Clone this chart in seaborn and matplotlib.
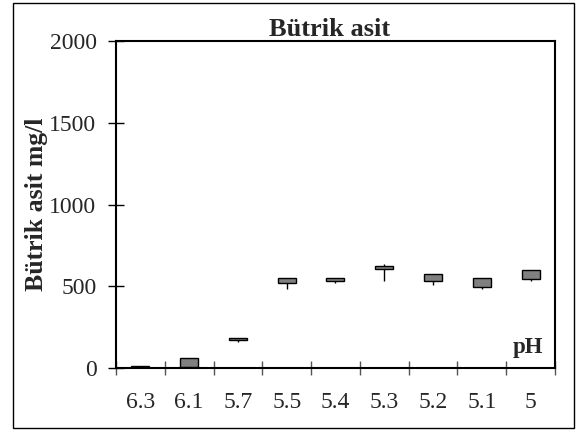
import numpy as np
import pandas as pd
import matplotlib
matplotlib.use("Agg")
import matplotlib.pyplot as plt
import seaborn as sns
from matplotlib.patches import Rectangle

# ==========================
# Data
# ==========================

ph_labels = ["6.3", "6.1", "5.7", "5.5", "5.4", "5.3", "5.2", "5.1", "5"]
low_vals = [0, 0, 158, 485, 522, 534, 510, 485, 534]
high_vals = [12, 60, 185, 550, 550, 636, 575, 550, 600]
open_vals = [3, 8, 172, 522, 534, 608, 534, 498, 546]
close_vals = [12, 60, 184, 550, 550, 624, 575, 550, 600]
y_ticks = [0, 500, 1000, 1500, 2000]

df = pd.DataFrame({
    "pH": ph_labels,
    "low": low_vals,
    "high": high_vals,
    "open": open_vals,
    "close": close_vals,
})
df["box"] = df["close"] - df["open"]

# ==========================
# Style
# ==========================

sns.set_theme(style="white")
plt.rcParams["font.family"] = ["Liberation Serif", "DejaVu Serif"]

fig = plt.figure(figsize=(5.79, 4.32), dpi=100)
ax = fig.add_axes([0.2003, 0.148, 0.7582, 0.757])

# whiskers (high-low lines) behind the boxes
ax.vlines(np.arange(len(df)), df["low"], df["high"], color="black",
          lw=1, zorder=1)

# open-close boxes
sns.barplot(
    data=df, x="pH", y="box", order=ph_labels,
    bottom=df["open"].to_numpy(),
    width=0.37, color="#808080", edgecolor="black", linewidth=1,
    errorbar=None, saturation=1, ax=ax, zorder=2
)

# ==========================
# Axes
# ==========================

ax.set_xlim(-0.5, len(df) - 0.5)
ax.set_ylim(0, 2000)
ax.set_yticks(y_ticks)
ax.set_yticklabels([str(v) for v in y_ticks])

ax.set_xticks(np.arange(-0.5, len(df), 1))
ax.set_xticklabels([])
ax.set_xticks(np.arange(len(df)), minor=True)
ax.set_xticklabels(ph_labels, minor=True)

ax.tick_params(axis="y", which="major", direction="inout", length=12,
               width=1, color="black", labelsize=17, pad=8, left=True)
ax.tick_params(axis="x", which="major", direction="inout", length=10,
               width=1, color="#555555", bottom=True)
ax.tick_params(axis="x", which="minor", length=0, labelsize=17, pad=17,
               bottom=True)

for spine in ax.spines.values():
    spine.set_visible(True)
    spine.set_color("black")
    spine.set_linewidth(1.5)

ax.set_xlabel("")
ax.set_ylabel("Bütrik asit mg/l", fontsize=18.5, fontweight="bold",
              va="center")
ax.yaxis.set_label_coords(-0.182, 0.5)
ax.set_title("Bütrik asit", fontsize=19, fontweight="bold", pad=3, x=0.486)

ax.text(0.938, 0.064, "pH", transform=ax.transAxes, fontsize=16.5,
        fontweight="bold", ha="center", va="center")

# outer chart border
fig.patches.append(Rectangle((0.0225, 0.009), 0.969, 0.984, fill=False,
                             edgecolor="black", lw=1,
                             transform=fig.transFigure))

fig.savefig("out.png", dpi=100)
